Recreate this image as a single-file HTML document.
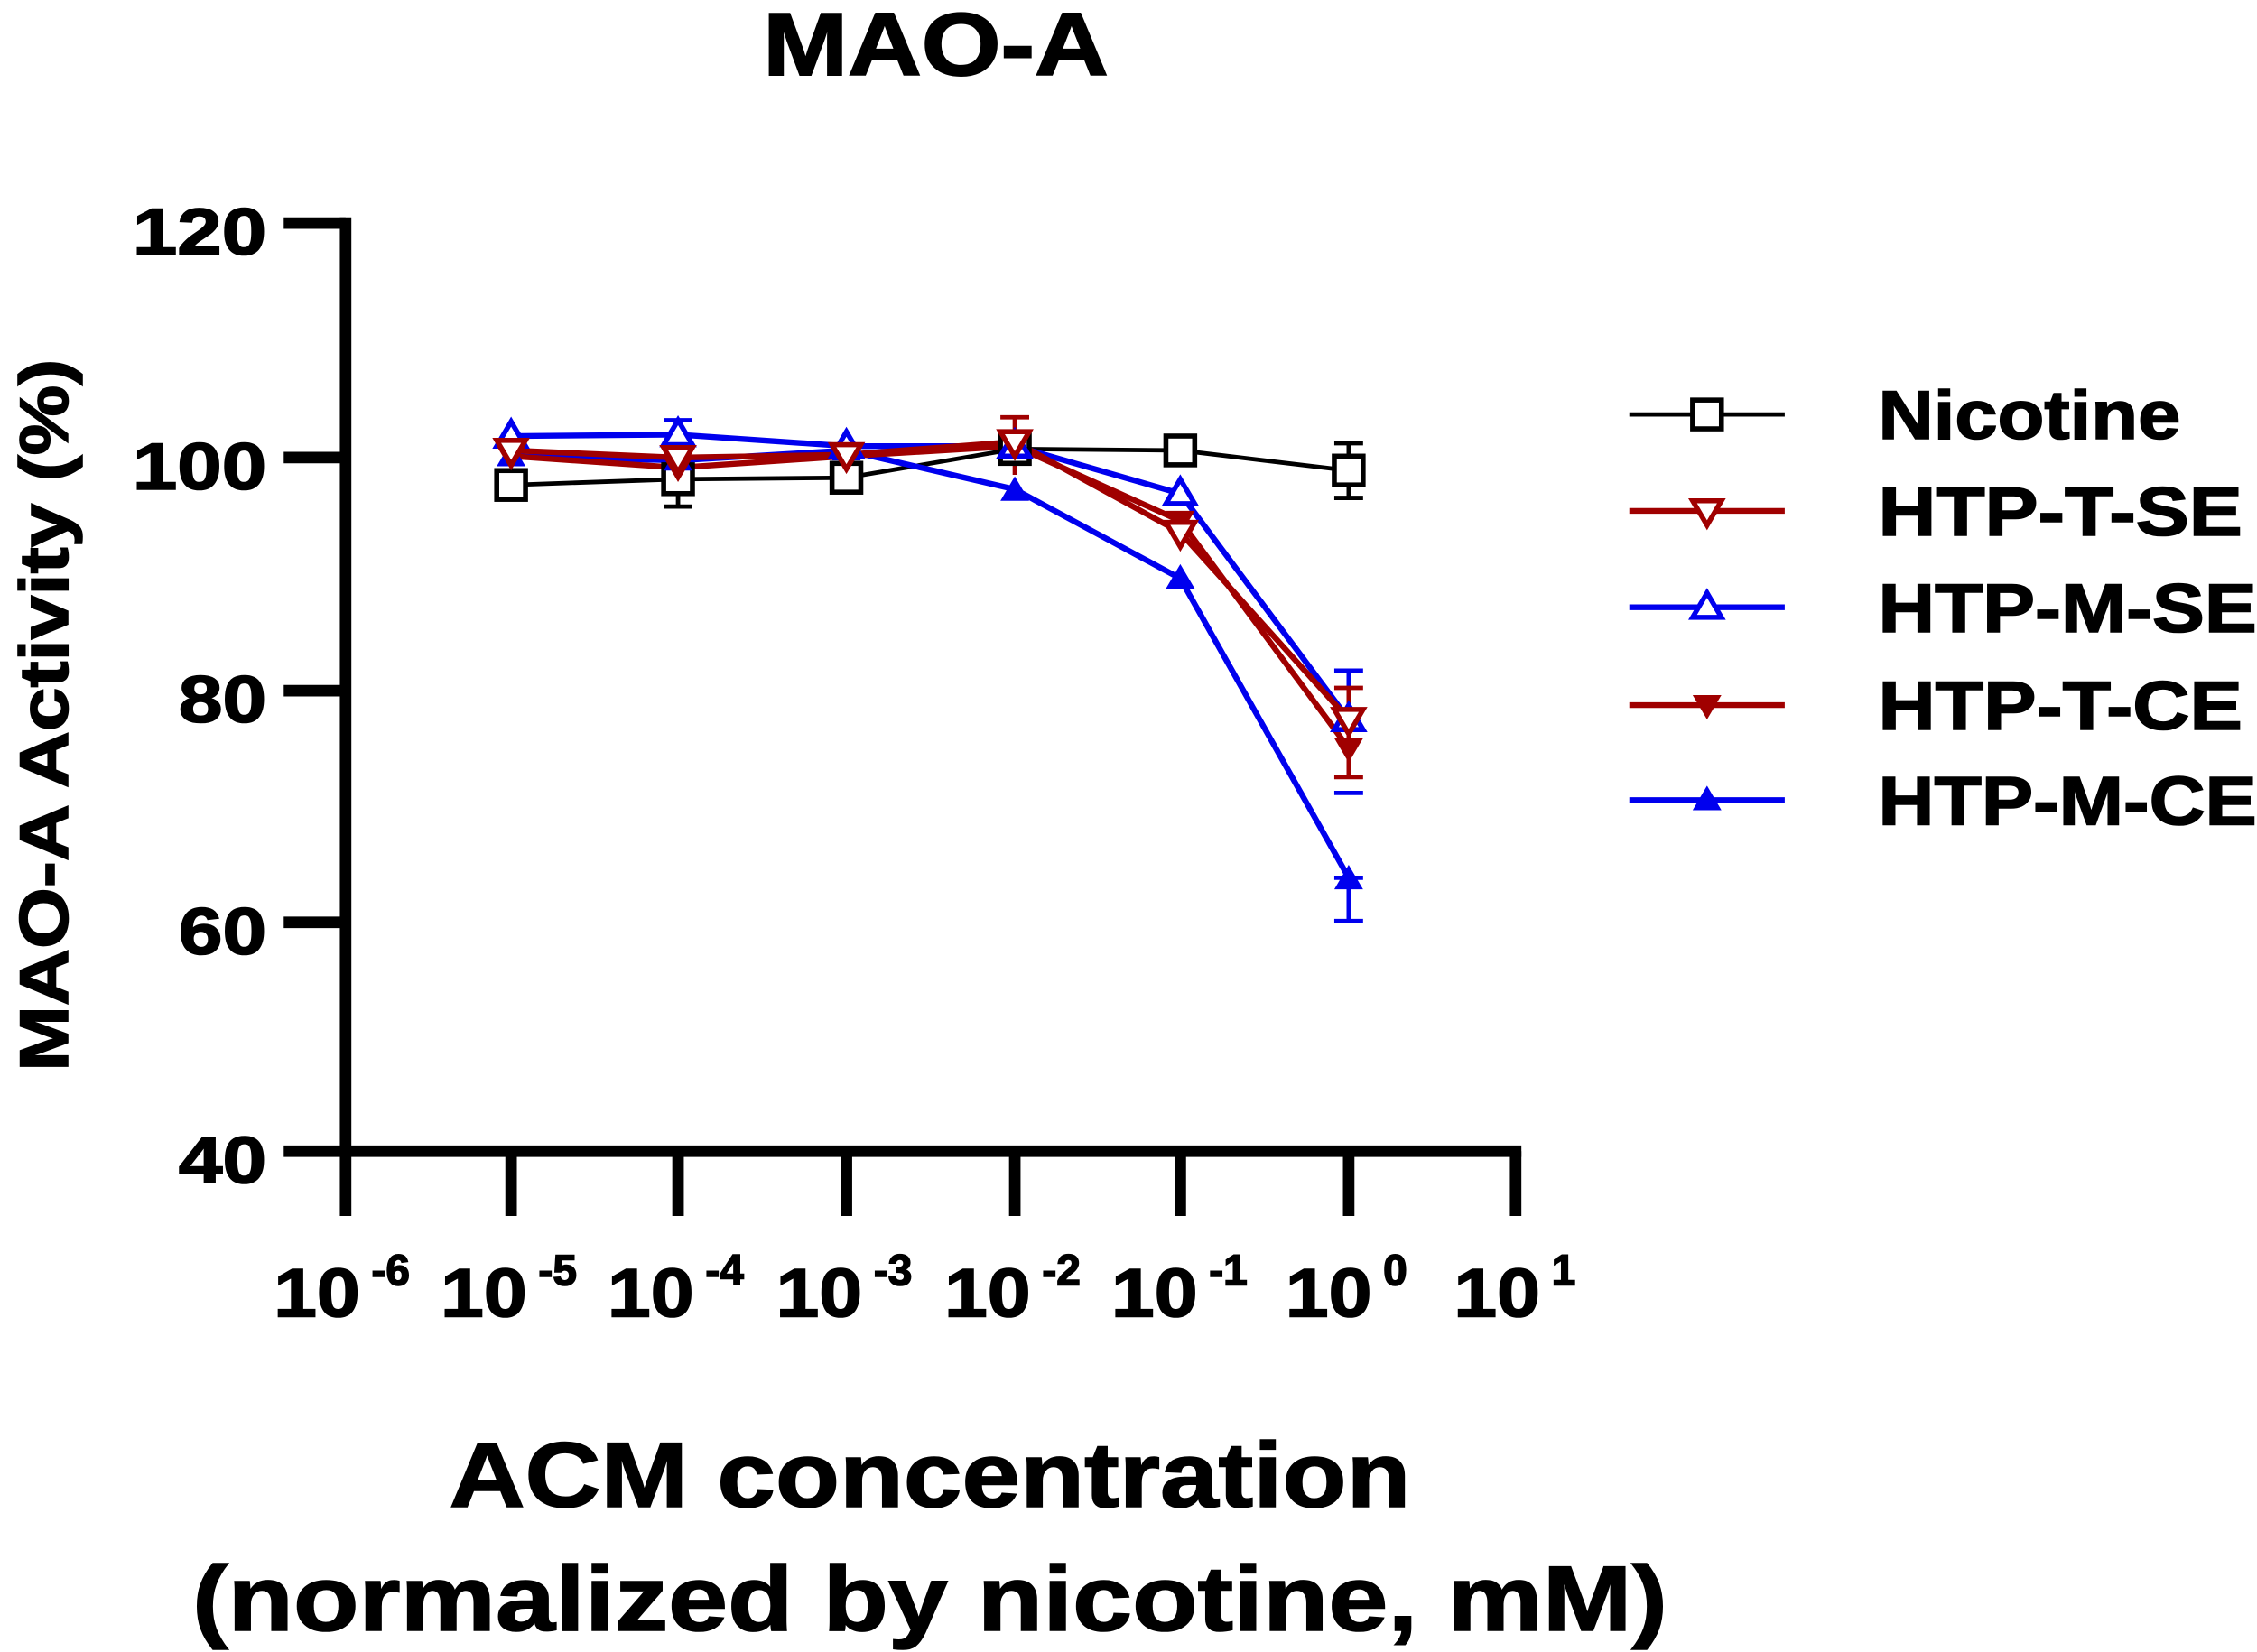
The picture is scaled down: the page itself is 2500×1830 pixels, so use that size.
<!DOCTYPE html>
<html><head><meta charset="utf-8"><style>html,body{margin:0;padding:0;background:#fff}svg{display:block}</style></head>
<body>
<svg width="2500" height="1830" viewBox="0 0 1568 1148" xmlns="http://www.w3.org/2000/svg" font-family="Liberation Sans, sans-serif" font-weight="bold">
<rect width="1568" height="1148" fill="#fff"/>
<g stroke="#000" stroke-width="1.2">
<text x="650" y="52" font-size="62" text-anchor="middle" textLength="240" lengthAdjust="spacingAndGlyphs">MAO-A</text>
</g>
<g stroke="#000" stroke-width="8" fill="none">
<path d="M240 151V804M236 800H1057"/>
<path d="M197 155H240M197 318H240M197 480H240M197 641H240M197 800H240"/>
<path d="M240 800V845M355 800V845M471 800V845M588 800V845M705 800V845M820 800V845M937 800V845M1053 800V845"/>
</g>
<g font-size="46" stroke="#000" stroke-width="1">
<text x="92" y="177" textLength="93" lengthAdjust="spacingAndGlyphs">120</text>
<text x="92" y="340" textLength="93" lengthAdjust="spacingAndGlyphs">100</text>
<text x="124" y="502" textLength="61" lengthAdjust="spacingAndGlyphs">80</text>
<text x="124" y="663" textLength="61" lengthAdjust="spacingAndGlyphs">60</text>
<text x="124" y="822" textLength="61" lengthAdjust="spacingAndGlyphs">40</text>
</g>
<g font-size="48" stroke="#000" stroke-width="1">
<text x="190" y="915"><tspan textLength="60" lengthAdjust="spacingAndGlyphs">10</tspan><tspan font-size="30" dx="8" dy="-22">-6</tspan></text>
<text x="306" y="915"><tspan textLength="60" lengthAdjust="spacingAndGlyphs">10</tspan><tspan font-size="30" dx="8" dy="-22">-5</tspan></text>
<text x="422" y="915"><tspan textLength="60" lengthAdjust="spacingAndGlyphs">10</tspan><tspan font-size="30" dx="8" dy="-22">-4</tspan></text>
<text x="539" y="915"><tspan textLength="60" lengthAdjust="spacingAndGlyphs">10</tspan><tspan font-size="30" dx="8" dy="-22">-3</tspan></text>
<text x="656" y="915"><tspan textLength="60" lengthAdjust="spacingAndGlyphs">10</tspan><tspan font-size="30" dx="8" dy="-22">-2</tspan></text>
<text x="772" y="915"><tspan textLength="60" lengthAdjust="spacingAndGlyphs">10</tspan><tspan font-size="30" dx="8" dy="-22">-1</tspan></text>
<text x="893" y="915"><tspan textLength="60" lengthAdjust="spacingAndGlyphs">10</tspan><tspan font-size="30" dx="8" dy="-22">0</tspan></text>
<text x="1010" y="915"><tspan textLength="60" lengthAdjust="spacingAndGlyphs">10</tspan><tspan font-size="30" dx="8" dy="-22">1</tspan></text>
</g>
<g stroke="#000" stroke-width="1">
<text transform="translate(47,497) rotate(-90)" font-size="48" text-anchor="middle" textLength="495" lengthAdjust="spacingAndGlyphs">MAO-A Activity (%)</text>
<text x="646" y="1047" font-size="64" text-anchor="middle" textLength="668" lengthAdjust="spacingAndGlyphs">ACM concentration</text>
<text x="646" y="1133" font-size="64" text-anchor="middle" textLength="1025" lengthAdjust="spacingAndGlyphs">(normalized by nicotine, mM)</text>
</g>
<!-- error bars -->
<g stroke-width="3" fill="none">
<path d="M471 323V352M461 323H481M461 352H481M937 308V346M927 308H947M927 346H947" stroke="#000"/>
<path d="M471 292V312M461 292H481M937 466V510M927 466H947M937 610V640M927 610H947M927 640H947M927 551H947" stroke="#0000ee"/>
<path d="M705 290V330M695 290H715M937 478V540M927 478H947M927 540H947" stroke="#a00000"/>
</g>
<!-- series lines -->
<g fill="none" stroke-width="4">
<polyline stroke="#000" stroke-width="3" points="355,337 471,333 588,332 705,312 820,313 937,327"/>
<polyline stroke="#0000ee" points="355,303 471,302 588,310 705,310 820,343 937,500"/>
<polyline stroke="#0000ee" points="355,317 471,320 588,313 705,340 820,402 937,610"/>
<polyline stroke="#a00000" points="355,313 471,318 588,316 705,307 820,370 937,500"/>
<polyline stroke="#a00000" points="355,317 471,325 588,317 705,310 820,362 937,520"/>
</g>
<!-- markers -->
<g fill="#fff" stroke="#000" stroke-width="3.5">
<rect x="345" y="327" width="20" height="20"/><rect x="461" y="323" width="20" height="20"/><rect x="578" y="322" width="20" height="20"/><rect x="695" y="302" width="20" height="20"/><rect x="810" y="303" width="20" height="20"/><rect x="927" y="317" width="20" height="20"/>
</g>
<g fill="#0000ee">
<path d="M355 307l-10 17h20z M471 310l-10 17h20z M588 303l-10 17h20z M705 331l-10 17h20z M820 392l-10 17h20z M937 601l-10 17h20z"/>
</g>
<g fill="#fff" stroke="#0000ee" stroke-width="3.5">
<path d="M355 293l-10 17h20z M471 292l-10 17h20z M588 300l-10 17h20z M705 300l-10 17h20z M820 333l-10 17h20z M937 490l-10 17h20z"/>
</g>
<g fill="#a00000">
<path d="M355 327l-10 -17h20z M471 335l-10 -17h20z M588 327l-10 -17h20z M705 320l-10 -17h20z M820 372l-10 -17h20z M937 530l-10 -17h20z"/>
</g>
<g fill="#fff" stroke="#a00000" stroke-width="3.5">
<path d="M355 323l-10 -17h20z M471 328l-10 -17h20z M588 326l-10 -17h20z M705 317l-10 -17h20z M820 380l-10 -17h20z M937 510l-10 -17h20z"/>
</g>
<!-- legend -->
<g stroke-width="4">
<line x1="1132" y1="288" x2="1240" y2="288" stroke="#000" stroke-width="3"/>
<rect x="1176" y="278" width="20" height="20" fill="#fff" stroke="#000" stroke-width="3.5"/>
<line x1="1132" y1="355" x2="1240" y2="355" stroke="#a00000"/>
<path d="M1186 365l-10 -17h20z" fill="#fff" stroke="#a00000" stroke-width="3.5"/>
<line x1="1132" y1="422" x2="1240" y2="422" stroke="#0000ee"/>
<path d="M1186 412l-10 17h20z" fill="#fff" stroke="#0000ee" stroke-width="3.5"/>
<line x1="1132" y1="490" x2="1240" y2="490" stroke="#a00000"/>
<path d="M1186 500l-10 -17h20z" fill="#a00000"/>
<line x1="1132" y1="556" x2="1240" y2="556" stroke="#0000ee"/>
<path d="M1186 546l-10 17h20z" fill="#0000ee"/>
</g>
<g font-size="48" stroke="#000" stroke-width="1">
<text x="1305" y="305" textLength="210" lengthAdjust="spacingAndGlyphs">Nicotine</text>
<text x="1305" y="372" textLength="253" lengthAdjust="spacingAndGlyphs">HTP-T-SE</text>
<text x="1305" y="439" textLength="263" lengthAdjust="spacingAndGlyphs">HTP-M-SE</text>
<text x="1305" y="507" textLength="253" lengthAdjust="spacingAndGlyphs">HTP-T-CE</text>
<text x="1305" y="573" textLength="263" lengthAdjust="spacingAndGlyphs">HTP-M-CE</text>
</g>
</svg>
</body></html>
